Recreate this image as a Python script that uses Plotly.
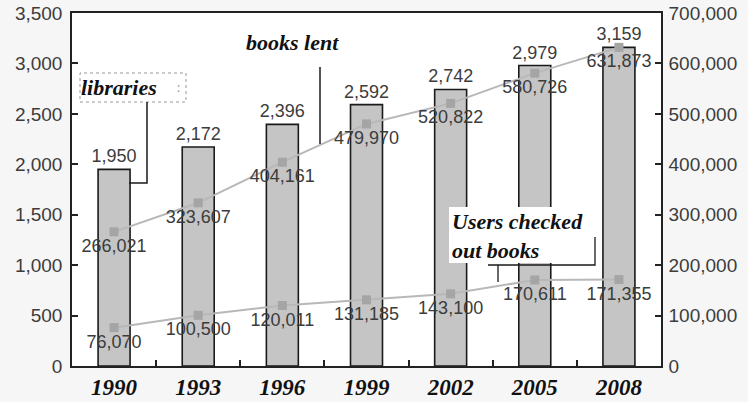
import plotly.graph_objects as go

years = ["1990", "1993", "1996", "1999", "2002", "2005", "2008"]
libraries = [1950, 2172, 2396, 2592, 2742, 2979, 3159]
books_lent = [266021, 323607, 404161, 479970, 520822, 580726, 631873]
users = [76070, 100500, 120011, 131185, 143100, 170611, 171355]

W, H = 748, 402
L, R, T, B = 72, 661, 13, 366


def px(x):
    return (x - L) / (R - L)


def py(y):
    return (B - y) / (B - T)


NUM_FONT = dict(family="Liberation Sans, Arial, sans-serif", size=18, color="#3c3c3c")
TICK_FONT = dict(family="Liberation Sans, Arial, sans-serif", size=19, color="#3c3c3c")
SERIF = dict(family="Liberation Serif, DejaVu Serif, serif", size=22, color="#111111", weight="bold", style="italic")

fig = go.Figure()
fig.add_trace(go.Bar(
    x=years, y=libraries, name="libraries",
    marker=dict(color="#c5c5c5", line=dict(color="#1a1a1a", width=1.6)),
    text=[f"{v:,}" for v in libraries], textposition="outside",
    textfont=NUM_FONT, constraintext="none", cliponaxis=False,
))
fig.add_trace(go.Scatter(
    x=years, y=books_lent, name="books lent", yaxis="y2", mode="lines+markers+text",
    line=dict(color="#b8b8b8", width=2),
    marker=dict(symbol="square", size=9, color="#a5a5a5"),
    text=[f"{v:,}" for v in books_lent], textposition="bottom center",
    textfont=NUM_FONT, cliponaxis=False,
))
fig.add_trace(go.Scatter(
    x=years, y=users, name="users", yaxis="y2", mode="lines+markers+text",
    line=dict(color="#b8b8b8", width=2),
    marker=dict(symbol="square", size=9, color="#a5a5a5"),
    text=[f"{v:,}" for v in users], textposition="bottom center",
    textfont=NUM_FONT, cliponaxis=False,
))

shapes = [
    # libraries box (dotted) and leader
    dict(type="rect", xref="paper", yref="paper", x0=px(80), x1=px(186), y0=py(102), y1=py(73),
         line=dict(color="#999999", width=1, dash="dot"), fillcolor="rgba(255,255,255,0)", layer="above"),
    dict(type="path", xref="paper", yref="paper",
         path=f"M {px(147)},{py(102)} L {px(147)},{py(183)} L {px(129)},{py(183)}",
         line=dict(color="#1a1a1a", width=1.5), layer="above"),
    # books lent leader
    dict(type="line", xref="paper", yref="paper", x0=px(320), x1=px(320), y0=py(67), y1=py(144),
         line=dict(color="#1a1a1a", width=1.5), layer="above"),
    # users box
    dict(type="rect", xref="paper", yref="paper", x0=px(449), x1=px(594), y0=py(263), y1=py(207),
         line=dict(width=0), fillcolor="white", layer="above"),
    dict(type="path", xref="paper", yref="paper",
         path=f"M {px(595)},{py(237)} L {px(595)},{py(265)} L {px(488)},{py(265)} M {px(498)},{py(265)} L {px(498)},{py(282)}",
         line=dict(color="#1a1a1a", width=1.3), layer="above"),
]

annotations = [
    dict(text="libraries", xref="paper", yref="paper", x=px(79), y=py(87), xanchor="left", yanchor="middle",
         showarrow=False, font=SERIF),
    dict(text=":", xref="paper", yref="paper", x=px(178), y=py(88), xanchor="center", yanchor="middle",
         showarrow=False, font=dict(size=12, color="#888888")),
    dict(text="books lent", xref="paper", yref="paper", x=px(244), y=py(42), xanchor="left", yanchor="middle",
         showarrow=False, font=SERIF),
    dict(text="Users checked<br>out books", xref="paper", yref="paper", x=px(450), y=py(236), xanchor="left",
         yanchor="middle", align="left", showarrow=False, font=SERIF),
]

axis_line = dict(showline=True, linecolor="#222222", linewidth=1.5, ticks="inside", ticklen=6,
                 tickcolor="#222222", tickwidth=1.5, showgrid=False, zeroline=False, automargin=False)

fig.update_layout(
    width=W, height=H,
    margin=dict(l=L, r=W - R, t=T, b=H - B, autoexpand=False),
    paper_bgcolor="#f6f6f6", plot_bgcolor="white",
    showlegend=False, bargap=0.62,
    xaxis=dict(**axis_line, mirror=True, tickson="boundaries", type="category",
               tickfont=dict(family="Liberation Serif, DejaVu Serif, serif", size=23, color="#111111",
                             weight="bold", style="italic")),
    yaxis=dict(**axis_line, range=[0, 3500], dtick=500, tickformat=",", tickfont=TICK_FONT, ticklabelstandoff=4),
    yaxis2=dict(**axis_line, range=[0, 700000], dtick=100000, tickformat=",", overlaying="y", side="right",
                tickfont=TICK_FONT, ticklabelstandoff=2),
    shapes=shapes, annotations=annotations,
)

fig.write_html("out.html", config={"displayModeBar": False},
               post_script="document.body.style.margin='0';document.body.style.padding='0';")
